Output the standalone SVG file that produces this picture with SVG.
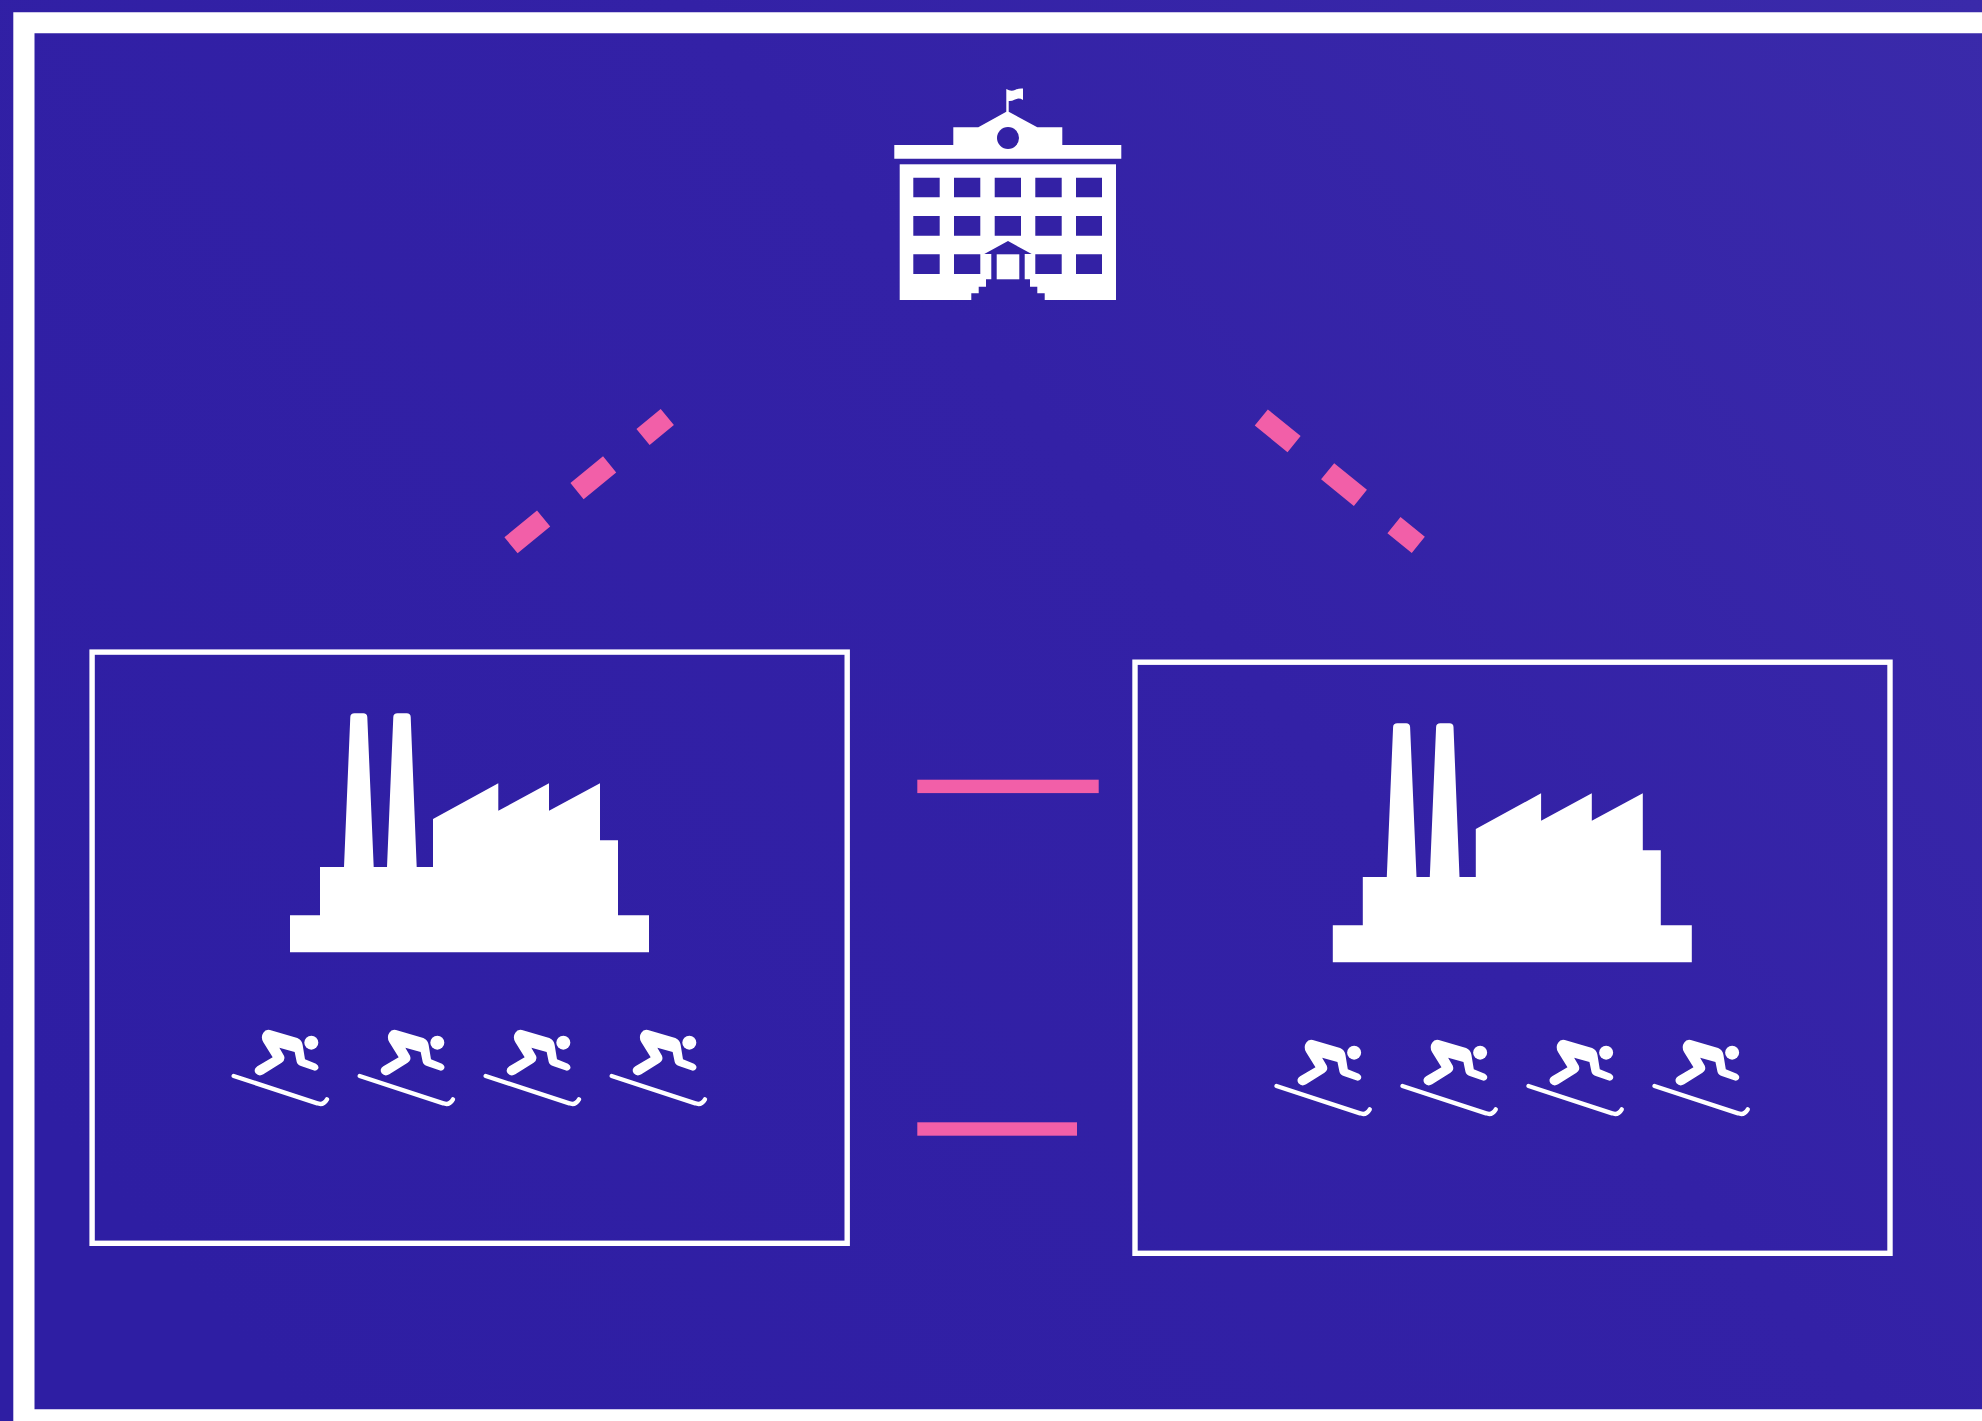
<svg xmlns="http://www.w3.org/2000/svg" xmlns:xlink="http://www.w3.org/1999/xlink" width="1982" height="1421" viewBox="0 0 1982 1421">
<style>
.w{fill:#fff}
.d{fill:#3321a5}
.box{fill:none;stroke:#fff;stroke-width:5.4}
.dash{fill:none;stroke:#f25fa8;stroke-width:20.8;stroke-dasharray:42.2 43.2}
.bar{fill:#f25fa8}
.ski{fill:none;stroke:#fff;stroke-width:13;stroke-linecap:round}
</style>
<defs>
<linearGradient id="bg" gradientUnits="userSpaceOnUse" x1="300" y1="1421" x2="1982" y2="0">
<stop offset="0" stop-color="#2e1ea3"/><stop offset="0.55" stop-color="#3321a6"/><stop offset="1" stop-color="#3a2aaa"/>
</linearGradient>
<g id="skier" transform="translate(220 1010) scale(0.3333)">
<circle class="w" cx="274" cy="98" r="21"/>
<path class="w" d="M150 60L232 84Q246 90 248 105L255 148L288 161Q299 168 294 177Q288 184 280 181L245 169Q232 164 230 155L224 126L178 113L192 137Q197 150 185 158L130 193Q117 201 107 190Q99 178 112 169L158 142L130 97Q121 81 130 68Q137 57 150 60Z"/>
<path class="ski" d="M41 198L292 280Q310 287 321 268"/>
</g>
<g id="factory">
<path class="w" d="M290 952.3V915.3H320V867H344L350.3 717Q350.5 713.3 354.5 713.3H363.3Q367 713.3 367.3 717L373.7 867H387L393.3 717Q393.5 713.3 397.5 713.3H406.7Q410.5 713.3 410.7 717L416.7 867H433V819L498.3 783.3V810.7L549 783.3V810.7L600 783.3V840.3H618V915.3H649V952.3Z"/>
</g>
<g id="skiers">
<use xlink:href="#skier" href="#skier"/>
<use xlink:href="#skier" href="#skier" x="126"/>
<use xlink:href="#skier" href="#skier" x="252"/>
<use xlink:href="#skier" href="#skier" x="378"/>
</g>
</defs>
<rect width="1982" height="1421" fill="url(#bg)"/>
<path id="frame" class="w" fill-rule="evenodd" d="M13.3 12.3H1982V33.3H34.5V1409.3H1982V1421H13.3Z"/>
<g id="school">
<path class="w" d="M1006.3 111.7V89Q1011 92 1015 90Q1019 88 1023 88.5V100Q1019 97.5 1015 99.5Q1011 101.5 1008.7 101V111.7L1037.3 127.3H1062.3V145H1121.3V158.7H894.3V145H953.3V127.3H978.3L1006.3 111.7Z"/>
<circle class="d" cx="1008" cy="138" r="11"/>
<rect class="w" x="899.7" y="164.3" width="216.3" height="135.7"/>
<path class="d" d="M913.3 177.7h26.4v19.6h-26.4zM954 177.7h26.3v19.6H954zM994.7 177.7H1021v19.6h-26.3zM1035.3 177.7h26.4v19.6h-26.4zM1076 177.7h26v19.6h-26zM913.3 216h26.4v19.7h-26.4zM954 216h26.3v19.7H954zM994.7 216H1021v19.7h-26.3zM1035.3 216h26.4v19.7h-26.4zM1076 216h26v19.7h-26zM913.3 254.3h26.4V274h-26.4zM954 254.3h26.3V274H954zM1035.3 254.3h26.4V274h-26.4zM1076 254.3h26V274h-26z"/>
<path class="d" d="M1008 241L1031.7 254H1024.7V279.3H1030V286.7H1037.3V293.3H1044.7V300H971.3V293.3H978.7V286.7H986V279.3H991.3V254H984.3Z"/>
<rect class="w" x="996.7" y="254.3" width="22.6" height="25"/>
</g>
<g id="connectors">
<path class="dash" d="M511 545.3L667.3 417"/>
<path class="dash" d="M1261.3 417.5L1418.3 544.8"/>
<rect class="bar" x="917.3" y="779.7" width="181.4" height="13.4"/>
<rect class="bar" x="917.3" y="1122.3" width="159.7" height="13.4"/>
</g>
<g id="plant-left">
<rect class="box" x="92.1" y="652.1" width="755.1" height="591.2"/>
<use xlink:href="#factory" href="#factory"/>
<use xlink:href="#skiers" href="#skiers"/>
</g>
<g id="plant-right" transform="translate(1042.8 10)">
<rect class="box" x="92.2" y="652.2" width="755" height="591.1"/>
<use xlink:href="#factory" href="#factory"/>
<use xlink:href="#skiers" href="#skiers"/>
</g>
</svg>
